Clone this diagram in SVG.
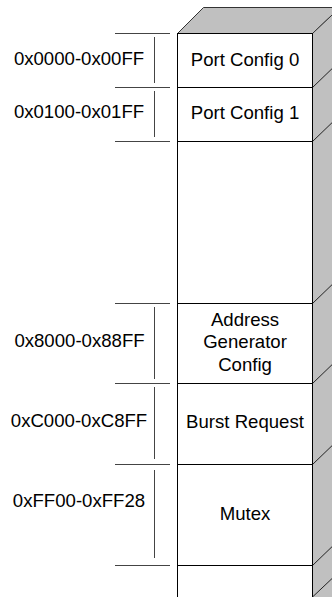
<svg xmlns="http://www.w3.org/2000/svg" width="332" height="597" viewBox="0 0 332 597">
<style>
  .face{fill:#ffffff;stroke:#000;stroke-width:1}
  .shade{fill:#c0c0c0;stroke:#333;stroke-width:1}
  .edge{fill:none;stroke:#222;stroke-width:1}
  .tick{fill:none;stroke:#444;stroke-width:1}
  text{font-family:"Liberation Sans",Arial,sans-serif;font-size:18.6px;fill:#000}
  .lbl{text-anchor:middle}
  .box{text-anchor:middle}
</style>
<rect width="332" height="597" fill="#fff"/>
<g id="stack">
  <polygon class="shade" points="177.5,33.5 203.5,7.5 340,7.5 312.5,33.5"/>
  <polygon class="shade" points="312.5,33.5 340,7.5 340,620 312.5,600"/>
  <path class="edge" d="M312.5,87.5 L340,61 M312.5,141.5 L340,115 M312.5,303.5 L340,277 M312.5,383.5 L340,357 M312.5,464.5 L340,438 M312.5,565.5 L340,539 M312.5,597 L340,571"/>
  <rect class="face" x="177.5" y="33.5" width="135" height="570"/>
</g>
<g id="port-config-0">
  <rect class="face" x="177.5" y="33.5" width="135" height="54"/>
  <text class="box" x="245" y="65.5">Port Config 0</text>
</g>
<g id="port-config-1">
  <rect class="face" x="177.5" y="87.5" width="135" height="54"/>
  <text class="box" x="245" y="119">Port Config 1</text>
</g>
<g id="reserved">
  <rect class="face" x="177.5" y="141.5" width="135" height="162"/>
</g>
<g id="address-generator-config">
  <rect class="face" x="177.5" y="303.5" width="135" height="80"/>
  <text class="box" x="245" y="325.7">Address</text>
  <text class="box" x="245" y="348">Generator</text>
  <text class="box" x="245" y="370.5">Config</text>
</g>
<g id="burst-request">
  <rect class="face" x="177.5" y="383.5" width="135" height="81"/>
  <text class="box" x="245" y="428.3">Burst Request</text>
</g>
<g id="mutex">
  <rect class="face" x="177.5" y="464.5" width="135" height="101"/>
  <text class="box" x="245" y="520">Mutex</text>
</g>
<g id="bottom">
  <rect class="face" x="177.5" y="565.5" width="135" height="40"/>
</g>
<g id="labels">
  <text class="lbl" x="79" y="65">0x0000-0x00FF</text>
  <text class="lbl" x="79" y="117.5">0x0100-0x01FF</text>
  <text class="lbl" x="79.5" y="346.7">0x8000-0x88FF</text>
  <text class="lbl" x="79" y="426.7">0xC000-0xC8FF</text>
  <text class="lbl" x="79" y="507">0xFF00-0xFF28</text>
</g>
<g id="connectors">
  <path class="tick" d="M115,33.5 H170 M115,87.5 H170 M115,141.5 H170 M115,303.5 H170 M115,383.5 H170 M115,464.5 H170 M115,565.5 H170"/>
  <path class="tick" d="M154.5,37 V83 M154.5,91 V137 M154.5,307 V379 M154.5,387 V459 M154.5,470 V558"/>
</g>
</svg>
